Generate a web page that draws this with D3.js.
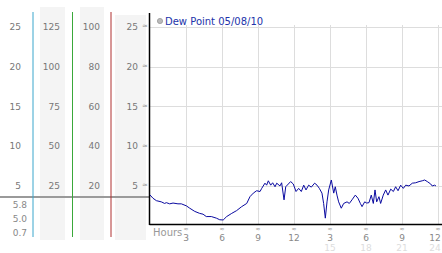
<!DOCTYPE html>
<html>
<head>
<meta charset="utf-8">
<script src="https://d3js.org/d3.v7.min.js"></script>
<style>
body {margin:0; background:#fff;}
svg {display:block; font-family:"DejaVu Sans", Verdana, sans-serif;}
</style>
</head>
<body>
<div id="chart"></div>
<script>
// dew point readings, hour of day and value
var hours = [0,0.25,0.53,0.94,1.22,1.36,1.64,1.92,2.33,2.61,3.03,3.31,3.73,4.14,4.42,4.69,5.11,5.53,5.81,6.1,
  6.39,6.81,7.22,7.64,8.06,8.33,8.61,8.89,9.17,9.31,9.58,9.72,9.86,10.06,10.22,10.42,10.56,10.83,10.97,11.17,
  11.31,11.53,11.72,11.94,12.17,12.39,12.61,12.81,13.0,13.22,13.44,13.72,13.92,14.11,14.33,14.47,14.61,14.75,14.89,15.11,
  15.31,15.44,15.58,15.72,15.94,16.14,16.42,16.61,16.83,17.11,17.33,17.53,17.67,17.89,18.06,18.25,18.44,18.61,18.75,18.89,
  19.08,19.22,19.44,19.64,19.83,20.06,20.28,20.47,20.67,20.89,21.11,21.31,21.58,21.86,22.14,22.42,22.69,22.89,23.11,23.39,
  23.52,23.72,23.83];
var dewPoint = [3.87,3.45,3.15,3.0,2.8,2.9,2.75,2.85,2.75,2.75,2.5,2.2,1.8,1.55,1.45,1.15,1.15,0.95,0.75,0.72,
  1.15,1.55,1.9,2.4,2.8,3.65,4.1,4.4,4.3,4.7,5.35,5.1,5.65,5.1,5.4,4.9,5.35,5.0,5.4,3.25,
  4.9,5.25,5.55,5.25,4.3,4.7,4.3,5.1,4.5,5.1,4.85,5.35,5.1,4.7,4.1,2.8,0.95,3.0,4.5,5.75,
  4.1,4.9,3.85,3.0,2.2,2.8,3.0,2.8,3.25,3.85,3.45,2.8,2.4,3.0,2.85,2.9,3.85,2.8,4.5,3.0,
  3.65,2.8,3.85,4.5,3.85,4.6,4.3,4.9,4.4,5.1,4.7,5.1,5.0,5.35,5.4,5.55,5.65,5.75,5.55,5.25,
  5.0,5.1,5.0];

var yTicks = [5, 10, 15, 20, 25];
var col1Labels = ["5", "10", "15", "20", "25"];
var col2Labels = ["25", "50", "75", "100", "125"];
var col3Labels = ["20", "40", "60", "80", "100"];
var col4Labels = ["5", "10", "15", "20", "25"];
var hourTicks = [3, 6, 9, 12, 15, 18, 21, 24];
var hourLabels = ["3", "6", "9", "12", "3", "6", "9", "12"];
var hourLabels24 = ["", "", "", "", "15", "18", "21", "24"];
var statLabels = ["5.8", "5.0", "0.7"];
var refValue = 3.6;
var legendText = "Dew Point 05/08/10";

var W = 442, H = 253;
var svg = d3.select("#chart").append("svg").attr("width", W).attr("height", H);

var x = d3.scaleLinear().domain([0, 24]).range([150, 438]);
var y = d3.scaleLinear().domain([0, 25]).range([225.7, 27]);
var plotLeft = 149.5, plotRight = W, plotTop = 13, plotBottom = 224.5;

// left side panels
var panels = [[40, 65, 7], [80, 104, 7], [115, 146, 15]];
svg.selectAll("rect.panel").data(panels).enter().append("rect")
  .attr("x", function(d){return d[0];})
  .attr("y", function(d){return d[2];})
  .attr("width", function(d){return d[1]-d[0];})
  .attr("height", function(d){return 240-d[2];})
  .attr("fill", "#f4f4f4");

var cols = [
  {labels: col1Labels, xr: 21},
  {labels: col2Labels, xr: 60},
  {labels: col3Labels, xr: 100},
  {labels: col4Labels, xr: 138}
];
cols.forEach(function(c){
  svg.append("g").selectAll("text").data(yTicks).enter().append("text")
    .attr("x", c.xr)
    .attr("y", function(d){return y(d);})
    .attr("dy", "0.35em")
    .attr("text-anchor", "end")
    .attr("font-size", 9)
    .attr("fill", "#777")
    .text(function(d,i){return c.labels[i];});
});

// reference line across panels
svg.append("line")
  .attr("x1", 0).attr("x2", plotLeft)
  .attr("y1", y(refValue)).attr("y2", y(refValue))
  .attr("stroke", "#9a9a9a").attr("stroke-width", 2);

var vlines = [[33, "#3aa6cc"], [72.5, "#3aa83a"], [111, "#b03030"]];
svg.selectAll("line.vl").data(vlines).enter().append("line")
  .attr("x1", function(d){return d[0];}).attr("x2", function(d){return d[0];})
  .attr("y1", 12).attr("y2", 237)
  .attr("stroke", function(d){return d[1];})
  .attr("stroke-width", 1);

var sy = d3.scalePoint().domain(statLabels).range([205, 232.5]);
svg.selectAll("text.stat").data(statLabels).enter().append("text")
  .attr("x", 27).attr("y", function(d){return sy(d);})
  .attr("dy", "0.35em").attr("text-anchor", "end")
  .attr("font-size", 9).attr("fill", "#888")
  .text(function(d){return d;});

// grid
svg.selectAll("line.hg").data(yTicks).enter().append("line")
  .attr("x1", plotLeft).attr("x2", plotRight)
  .attr("y1", function(d){return Math.round(y(d))+0.5;})
  .attr("y2", function(d){return Math.round(y(d))+0.5;})
  .attr("stroke", "#ddd");
svg.selectAll("line.vg").data(hourTicks).enter().append("line")
  .attr("x1", function(d){return Math.round(x(d))+0.5;})
  .attr("x2", function(d){return Math.round(x(d))+0.5;})
  .attr("y1", 25).attr("y2", plotBottom)
  .attr("stroke", "#ddd");

// tick marks
svg.selectAll("text.ytm").data(yTicks).enter().append("text")
  .attr("x", 145).attr("y", function(d){return y(d)-1;})
  .attr("dy", "0.35em").attr("text-anchor", "middle")
  .attr("font-size", 7).attr("fill", "#999")
  .text("\u2248");
svg.selectAll("text.xtm").data(hourTicks).enter().append("text")
  .attr("x", function(d){return Math.min(x(d), W - 4);}).attr("y", 229)
  .attr("dy", "0.35em").attr("text-anchor", "middle")
  .attr("font-size", 6).attr("fill", "#999")
  .text("\u2248");

function labelX(d) { return Math.min(x(d), W - 7); }
svg.selectAll("text.xl").data(hourTicks).enter().append("text")
  .attr("x", labelX).attr("y", 237.5)
  .attr("dy", "0.35em").attr("text-anchor", "middle")
  .attr("font-size", 9).attr("fill", "#888")
  .text(function(d,i){return hourLabels[i];});
svg.selectAll("text.xl2").data(hourTicks).enter().append("text")
  .attr("x", labelX).attr("y", 247.5)
  .attr("dy", "0.35em").attr("text-anchor", "middle")
  .attr("font-size", 9).attr("fill", "#ddd")
  .text(function(d,i){return hourLabels24[i];});

svg.append("text").attr("x", 153).attr("y", 232)
  .attr("dy", "0.35em").attr("font-size", 10).attr("fill", "#999")
  .text("Hours");

// axes
svg.append("line").attr("x1", plotLeft).attr("x2", plotLeft)
  .attr("y1", plotTop).attr("y2", plotBottom + 0.5)
  .attr("stroke", "#000").attr("stroke-width", 1.5);
svg.append("line").attr("x1", plotLeft).attr("x2", plotRight)
  .attr("y1", plotBottom).attr("y2", plotBottom)
  .attr("stroke", "#000").attr("stroke-width", 1.5);

// series
var line = d3.line()
  .x(function(d,i){return x(hours[i]);})
  .y(function(d){return y(d);});
svg.append("path").datum(dewPoint)
  .attr("d", line)
  .attr("fill", "none")
  .attr("stroke", "#0a0aa0")
  .attr("stroke-width", 1);

// legend
svg.append("circle").attr("cx", 160).attr("cy", 21).attr("r", 2.6)
  .attr("fill", "#bbb").attr("stroke", "#999").attr("stroke-width", 0.8);
svg.append("text").attr("x", 165).attr("y", 21)
  .attr("dy", "0.35em").attr("font-size", 10).attr("fill", "#2233aa")
  .text(legendText);
</script>
</body>
</html>
